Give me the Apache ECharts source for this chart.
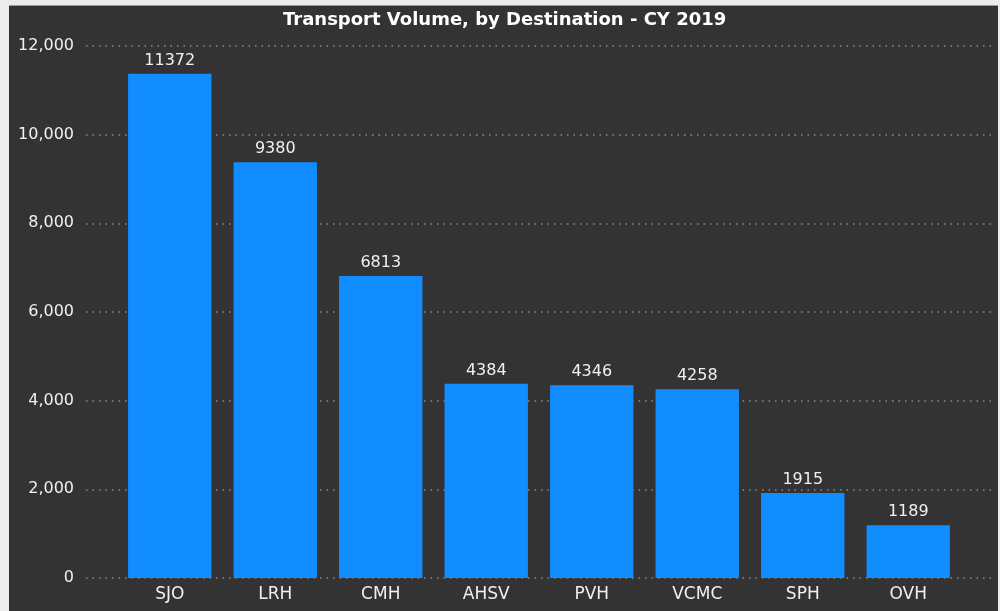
<!DOCTYPE html>
<html>
    <head>
        <meta charset="utf-8">
        <title>Transport Volume</title>
        <script src="https://cdn.jsdelivr.net/npm/echarts@6/dist/echarts.min.js"></script>
        <style>
            html, body { margin:0; padding:0; background:#ececec; }
            #panel { position:absolute; left:9px; top:5px; width:989px; height:606px; background:#333333; border-top:1px solid #9a9a9a; }
            #main { position:absolute; left:0; top:0; width:1000px; height:611px; }
        </style>
    </head>
    <body>
        <div id="panel"></div>
        <div id="main"></div>
        <script type="text/javascript">
            var destinations = ['SJO', 'LRH', 'CMH', 'AHSV', 'PVH', 'VCMC', 'SPH', 'OVH'];
            var volumes = [11372, 9380, 6813, 4384, 4346, 4258, 1915, 1189];
            var yMax = 12000;
            var yStep = 2000;

            var myChart = echarts.init(document.getElementById('main'));
            var textColor = '#f0f0f0';
            var fontName = '"DejaVu Sans", sans-serif';

            var option = {
                backgroundColor: 'transparent',
                title: {
                    text: 'Transport Volume, by Destination - CY 2019',
                    left: 278,
                    top: 6,
                    textStyle: { color: '#ffffff', fontSize: 18, fontWeight: 'bold', fontFamily: fontName }
                },
                // grid 0 carries the y labels and dotted lines across the panel,
                // grid 1 holds the bars in a narrower band
                grid: [
                    { left: 86, right: 7, top: 46, bottom: 33 },
                    { left: 117, right: 39, top: 46, bottom: 33 }
                ],
                xAxis: [{
                    gridIndex: 0,
                    type: 'category',
                    data: destinations,
                    show: false
                }, {
                    gridIndex: 1,
                    type: 'category',
                    data: destinations,
                    axisLine: { show: false },
                    axisTick: { show: false },
                    axisLabel: { color: textColor, fontSize: 17, fontFamily: fontName, margin: 8 }
                }],
                yAxis: [{
                    gridIndex: 0,
                    type: 'value',
                    min: 0,
                    max: yMax,
                    interval: yStep,
                    axisLine: { show: false },
                    axisTick: { show: false },
                    axisLabel: {
                        color: textColor, fontSize: 16, fontFamily: fontName, margin: 12,
                        formatter: function (v) { return v.toLocaleString('en-US'); }
                    },
                    splitLine: { lineStyle: { color: '#8a8a8a', type: [1.5, 5], width: 1.5 } }
                }, {
                    gridIndex: 1,
                    type: 'value',
                    min: 0,
                    max: yMax,
                    interval: yStep,
                    show: false,
                    splitLine: { show: false }
                }],
                series: [{
                    type: 'bar',
                    xAxisIndex: 1,
                    yAxisIndex: 1,
                    data: volumes,
                    barCategoryGap: '21%',
                    itemStyle: { color: '#118dff' },
                    label: {
                        show: true,
                        position: 'top',
                        distance: 5,
                        color: textColor,
                        fontSize: 16,
                        fontFamily: fontName
                    }
                }]
            };
            myChart.setOption(option);
        </script>
    </body>
</html>
